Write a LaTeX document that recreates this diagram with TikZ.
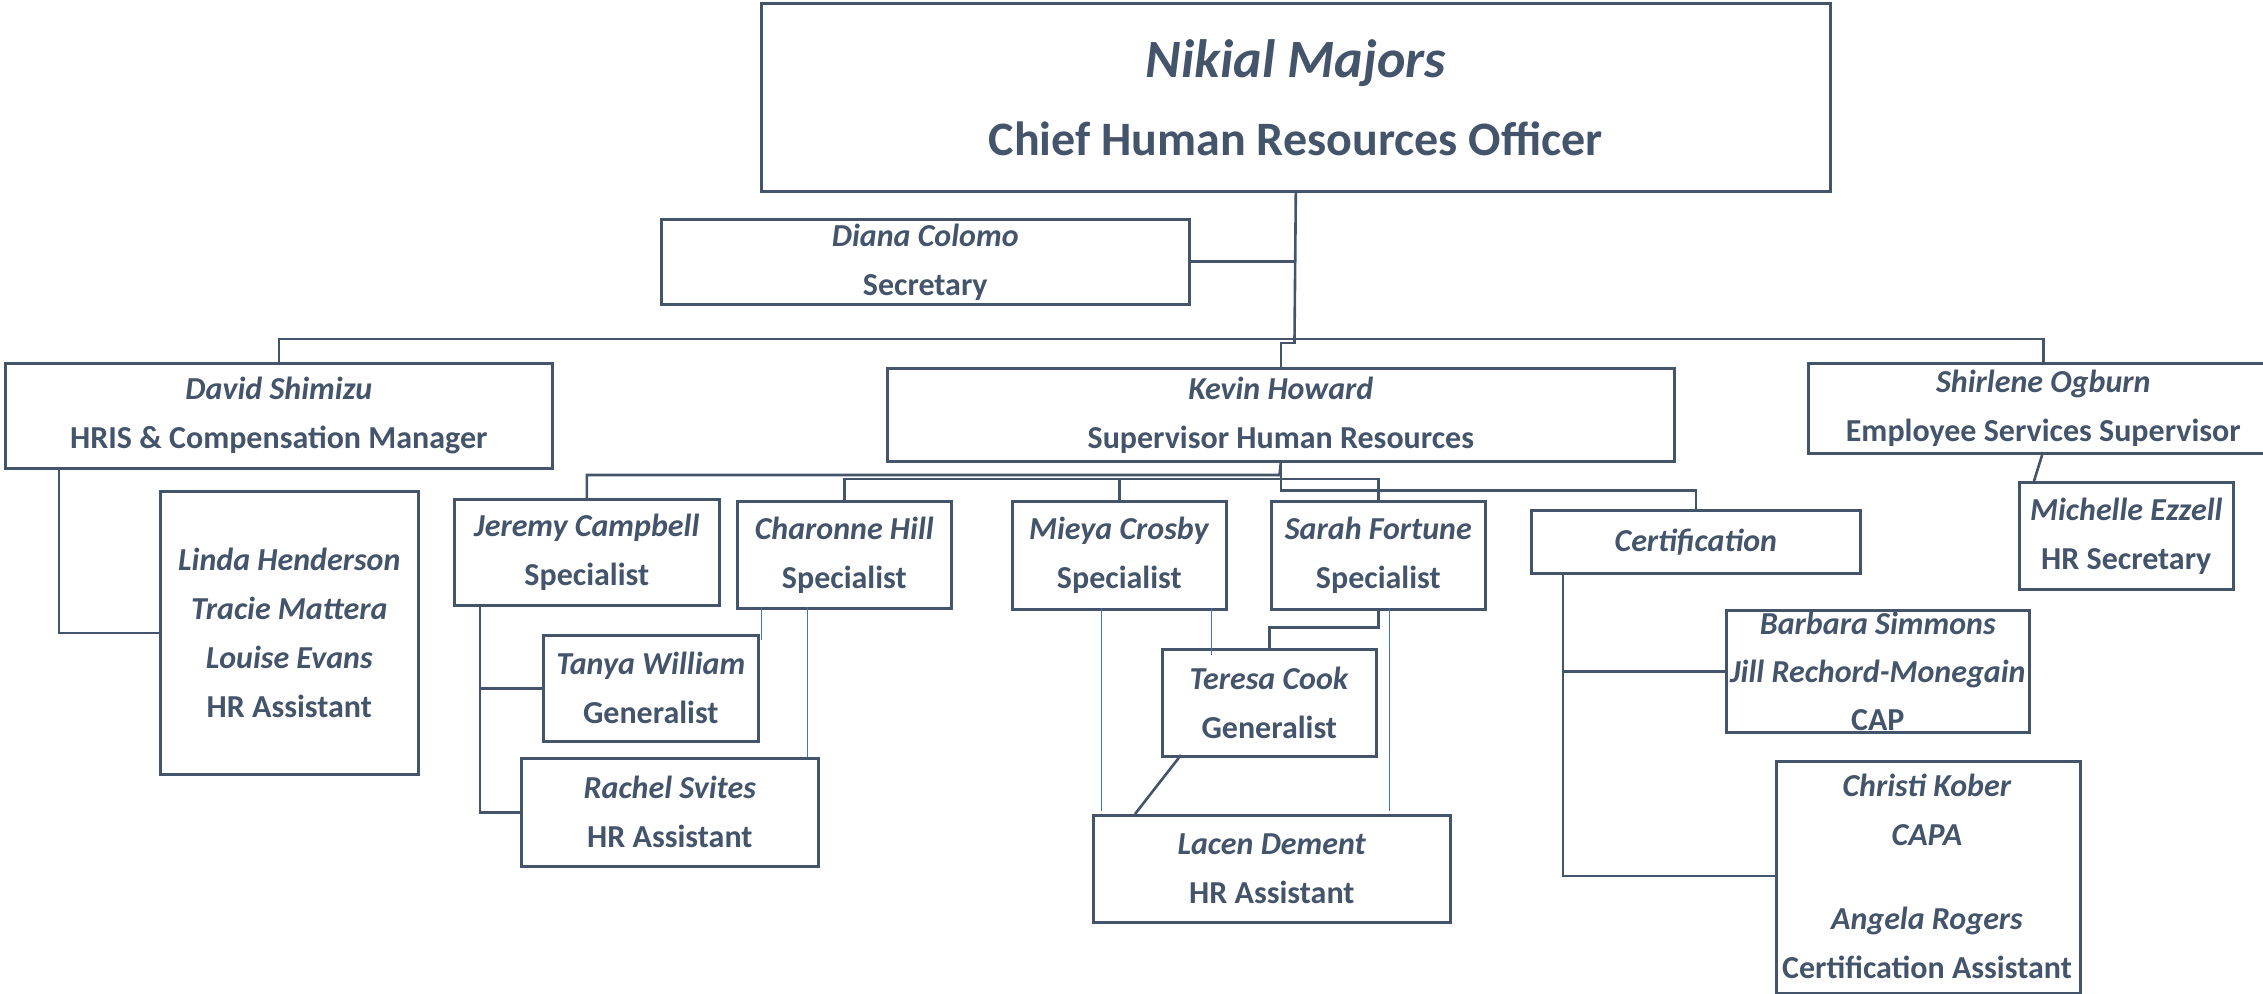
\documentclass[tikz,border=0pt]{standalone}
\usepackage{fontspec}
\setmainfont{Carlito}
\definecolor{slate}{HTML}{44546A}
\definecolor{lblue}{HTML}{4472C4}
\tikzset{
  box/.style={draw=slate, line width=1.3pt, text=slate, align=center, inner sep=0pt,
    anchor=north west, font=\bfseries\fontsize{16}{24.5}\selectfont},
  wh/.style 2 args={minimum width=#1*0.5pt, minimum height=#2*0.5pt},
  conn/.style={draw=slate, line width=1.3pt},
  blueline/.style={draw=lblue, line width=0.5pt},
  txt/.style={text=slate, align=center, inner sep=0pt, font=\bfseries\fontsize{16}{24.5}\selectfont}
}
\begin{document}
\begin{tikzpicture}[x=0.5pt,y=-0.5pt]
\useasboundingbox (0,0) rectangle (2263,994);
\clip (0,0) rectangle (2263,994);
% boxes
\node[box, wh={1069}{188}, font=\bfseries\fontsize{24}{39}\selectfont] (chro) at (760,2)
  {{\fontsize{27}{39}\selectfont\itshape Nikial Majors}\\Chief Human Resources Officer};
\node[box, wh={528}{85}] (diana) at (660,218) {\textit{Diana Colomo}\\Secretary};
\node[box, wh={547}{105}] (david) at (4,362) {\textit{David Shimizu}\\HRIS \& Compensation Manager};
\node[box, wh={787}{93}] (kevin) at (886,367) {\textit{Kevin Howard}\\Supervisor Human Resources};
\node[box, wh={470}{90}] (shirlene) at (1807,362) {\textit{Shirlene Ogburn}\\Employee Services Supervisor};
\node[box, wh={214}{107}] (michelle) at (2018,481) {\textit{Michelle Ezzell}\\HR Secretary};
\node[box, wh={258}{283}] (linda) at (159,490)
  {\textit{Linda Henderson}\\\textit{Tracie Mattera}\\\textit{Louise Evans}\\HR Assistant};
\node[box, wh={265}{106}] (jeremy) at (453,498) {\textit{Jeremy Campbell}\\Specialist};
\node[box, wh={214}{107}] (charonne) at (736,500) {\textit{Charonne Hill}\\Specialist};
\node[box, wh={214}{108}] (mieya) at (1011,500) {\textit{Mieya Crosby}\\Specialist};
\node[box, wh={214}{108}] (sarah) at (1270,500) {\textit{Sarah Fortune}\\Specialist};
\node[box, wh={329}{63}] (cert) at (1530,509) {\textit{Certification}};
\node[box, wh={215}{106}] (tanya) at (542,634) {\textit{Tanya William}\\Generalist};
\node[box, wh={297}{108}] (rachel) at (520,757) {\textit{Rachel Svites}\\HR Assistant};
\node[box, wh={214}{107}] (teresa) at (1161,648) {\textit{Teresa Cook}\\Generalist};
\node[box, wh={357}{107}] (lacen) at (1092,814) {\textit{Lacen Dement}\\HR Assistant};
\node[box, wh={303}{122}, font=\bfseries\fontsize{16}{24}\selectfont] (barbara) at (1725,609)
  {\textit{Barbara Simmons}\\\textit{Jill Rechord-Monegain}\\CAP};
\node[box, wh={304}{232}] (christi) at (1775,760) {};
\node[txt, font=\bfseries\fontsize{16}{24.5}\selectfont] (christitxt) at (1927,876)
  {\textit{Christi Kober}\\\textit{CAPA}\\[17.5pt]\textit{Angela Rogers}\\Certification Assistant};
% top level connectors
\coordinate (bus) at (1294.5,339);
\draw[conn] (chro.south) -- (bus);
\draw[conn] (diana.east) -- (diana.east -| bus);
\draw[conn] (david.north) |- (bus) -| (shirlene.north);
\draw[conn] (bus) -- ++(0,4) -| (kevin.north);
% Kevin's team
\coordinate (kb1) at (1279.5,475);
\coordinate (kb2) at (1279.5,479);
\draw[conn] (kevin.south) -- ++(0,28) -| (cert.north);
\draw[conn] (kevin.south) -- (kb1) -| (jeremy.north);
\draw[conn] (kb2) -| (charonne.north);
\draw[conn] (kb2) -| (sarah.north);
\draw[conn] (mieya.north) -- (mieya.north |- kb2);
% David -> Linda
\coordinate (dx) at (59,467);
\draw[conn] (dx) |- (linda.west);
% Jeremy -> Tanya, Rachel
\coordinate (jx) at (480,604);
\draw[conn] (jx) |- (tanya.west);
\draw[conn] (jx) |- (rachel.west);
% Sarah -> Teresa -> Lacen
\draw[conn] (sarah.south) -- ++(0,17) -| (teresa.north);
\coordinate (tl1) at (1181,755);
\coordinate (tl2) at (1135,814);
\draw[conn] (tl1) -- (tl2);
% Shirlene -> Michelle
\coordinate (sm1) at (2043,452);
\coordinate (sm2) at (2034,481);
\draw[conn] (sm1) -- (sm2);
% Certification
\coordinate (cx) at (1563,572);
\coordinate (cbend) at (1563,876);
\draw[conn] (cx) -- (cbend) -- (cbend -| christi.west);
\draw[conn] (barbara.west -| cx) -- (barbara.west);
% thin blue lines
\coordinate (b1a) at (761,607); \coordinate (b1b) at (761,640);
\coordinate (b2a) at (807,607); \coordinate (b2b) at (807,757);
\coordinate (b3a) at (1101,608); \coordinate (b3b) at (1101,811);
\coordinate (b4a) at (1211,608); \coordinate (b4b) at (1211,655);
\coordinate (b5a) at (1389,608); \coordinate (b5b) at (1389,811);
\draw[blueline] (b1a) -- (b1b);
\draw[blueline] (b2a) -- (b2b);
\draw[blueline] (b3a) -- (b3b);
\draw[blueline] (b4a) -- (b4b);
\draw[blueline] (b5a) -- (b5b);
\end{tikzpicture}
\end{document}
